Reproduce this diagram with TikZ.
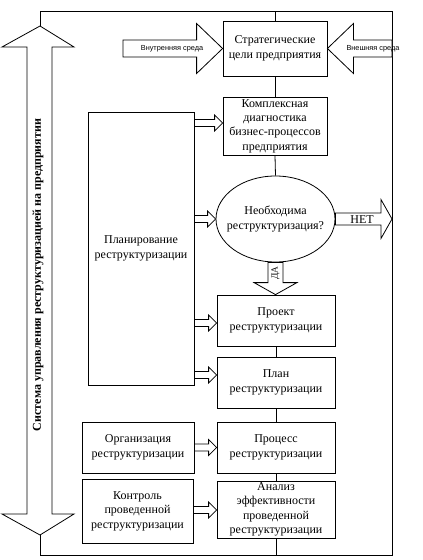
\documentclass[tikz,border=0pt]{standalone}
\usepackage{fontspec}
\setmainfont{Liberation Serif}
\newfontfamily\smallsans{Liberation Sans}
\usetikzlibrary{shapes.geometric,calc}
\newcommand\blockarrowh[5]{%
  \draw[barrow] let \p1=(#1), \p2=(#2) in
    ({\x1},{\y1+#3}) -- ({\x2-(#5)},{\y1+#3}) -- ({\x2-(#5)},{\y1+#4}) -- ({\x2},{\y1}) --
    ({\x2-(#5)},{\y1-#4}) -- ({\x2-(#5)},{\y1-#3}) -- ({\x1},{\y1-#3}) -- cycle;}
\newcommand\blockarrowv[5]{%
  \draw[barrow] let \p1=(#1), \p2=(#2) in
    ({\x1-#3},{\y1}) -- ({\x1-#3},{\y2+(#5)}) -- ({\x1-#4},{\y2+(#5)}) -- ({\x1},{\y2}) --
    ({\x1+#4},{\y2+(#5)}) -- ({\x1+#3},{\y2+(#5)}) -- ({\x1+#3},{\y1}) -- cycle;}
\begin{document}
\begin{tikzpicture}[x=0.75pt,y=-0.75pt, line width=0.6pt,
  txt/.style={align=center, inner sep=0pt, font=\fontsize{9}{10.8}\selectfont},
  box/.style={txt, draw, rectangle},
  barrow/.style={draw, fill=white, line join=miter},
  tiny/.style={inner sep=0pt, font=\smallsans\fontsize{5.5}{6.5}\selectfont}]
\useasboundingbox (0,0) rectangle (423,560);

% boxes
\node[box, minimum width=78pt, minimum height=41.25pt] (strat) at (275,48.5) {Стратегические\\цели предприятия};
\node[box, minimum width=78pt, minimum height=43.5pt] (diag) at (275,126) {Комплексная\\диагностика\\бизнес-процессов\\предприятия};
\node[box, minimum width=79.5pt, minimum height=204.75pt] (plan) at (141,248.5) {Планирование\\реструктуризации};
\node[draw, ellipse, inner sep=0pt, minimum width=89.25pt, minimum height=64.5pt] (ell) at (275.5,219) {};
\node[txt] (ellT) at (ell.center) {Необходима\\реструктуризация?};
\node[box, minimum width=88.5pt, minimum height=38.25pt] (proj) at (276,320.5) {Проект\\реструктуризации};
\node[box, minimum width=88.5pt, minimum height=38.25pt] (planbox) at (276,382.5) {План\\реструктуризации};
\node[box, minimum width=88.5pt, minimum height=38.25pt] (proc) at (276,447.5) {Процесс\\реструктуризации};
\node[box, minimum width=88.5pt, minimum height=42.75pt] (anal) at (276,509.5) {Анализ\\эффективности\\проведенной\\реструктуризации};
\node[box, minimum width=84pt, minimum height=38.25pt] (org) at (138,447.5) {Организация\\реструктуризации};
\node[box, minimum width=83.25pt, minimum height=48pt] (ctrl) at (137.5,511) {Контроль\\проведенной\\реструктуризации};

% frame coordinates
\coordinate (bigTop) at (40,26);
\coordinate (bigBot) at (40,535);
\coordinate (tl) at (40,11);
\coordinate (tr) at (392,11);
\coordinate (br) at (392,555);
\coordinate (bl) at (40,555);

% frame lines
\draw (bigTop) -- (tl) -- (tr) -- (br) -- (bl) -- (bigBot);
\draw (strat.north) -- (strat.north |- tl);
\draw (strat.south) -- (diag.north);
\draw (diag.south) -- (ell.north);
\draw (proj.south) -- (planbox.north);
\draw (planbox.south) -- (proc.north);
\draw (proc.south) -- (anal.north);
\draw (anal.south) -- (anal.south |- br);

% big double arrow
\draw[barrow] (bigTop) -- (74,47) -- (52,47) -- (52,514) -- (74,514) -- (bigBot)
  -- (2,514) -- (27,514) -- (27,47) -- (2,47) -- cycle;
\node[rotate=90, inner sep=0pt, font=\bfseries\fontsize{9}{10.8}\selectfont] (sys) at (38,275)
  {Система управления реструктуризацией на предприятии};

% environment arrows
\coordinate (inS) at (123,48.5);
\coordinate (exS) at (392,48.5);
\blockarrowh{inS}{strat.west}{6.4pt}{18.75pt}{19.5pt}
\blockarrowh{exS}{strat.east}{6.4pt}{18.75pt}{-19.5pt}
\node[tiny] (inT) at (172,48.5) {Внутренняя среда};
\node[tiny] (exT) at (373,48.5) {Внешняя среда};

% decision arrows
\coordinate (netE) at (392,219);
\blockarrowh{ell.east}{netE}{4.5pt}{14.6pt}{8.25pt}
\node[txt] (net) at (362,219.5) {НЕТ};
\blockarrowv{ell.south}{proj.north}{5.6pt}{16.1pt}{9pt}
\node[txt, rotate=90, font=\fontsize{7}{8}\selectfont] (da) at (275.5,273) {ДА};

% small arrows
\coordinate (s1) at (plan.east |- 0,123);
\coordinate (e1) at (diag.west |- 0,123);
\coordinate (s2) at (plan.east |- ell.west);
\coordinate (s3) at (plan.east |- 0,323);
\coordinate (e3) at (proj.west |- 0,323);
\coordinate (s4) at (plan.east |- 0,375);
\coordinate (e4) at (planbox.west |- 0,375);
\coordinate (e6) at (anal.west |- 0,510);
\coordinate (s6) at (ctrl.east |- e6);
\blockarrowh{s1}{e1}{2.6pt}{6pt}{6pt}
\blockarrowh{s2}{ell.west}{2.6pt}{6pt}{6pt}
\blockarrowh{s3}{e3}{2.6pt}{6pt}{6pt}
\blockarrowh{s4}{e4}{2.6pt}{6pt}{6pt}
\blockarrowh{org.east}{proc.west}{2.6pt}{6pt}{6pt}
\blockarrowh{s6}{e6}{2.6pt}{6pt}{6pt}
\end{tikzpicture}
\end{document}
